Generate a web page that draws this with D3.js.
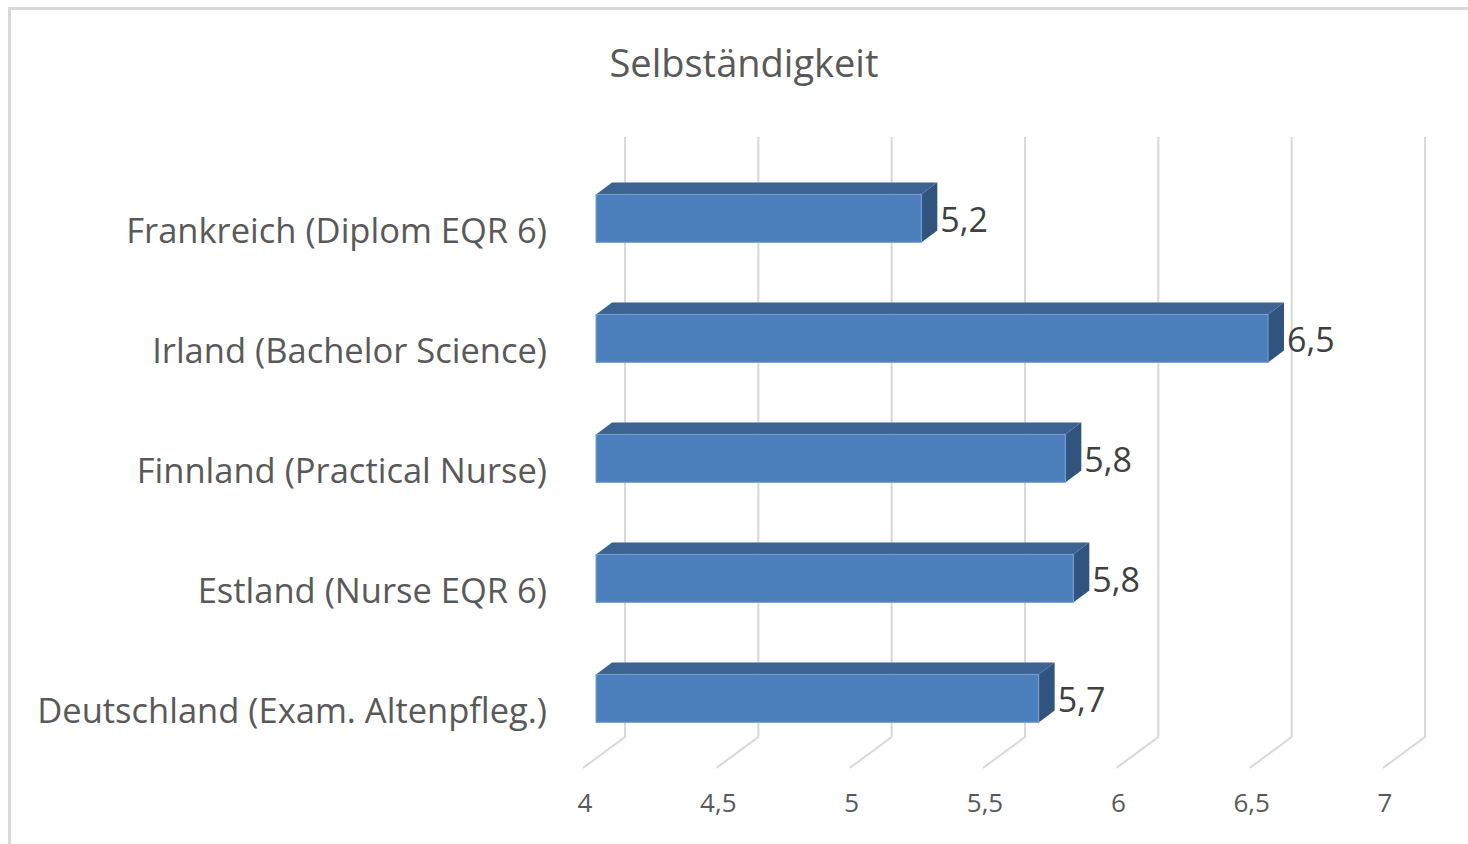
<!DOCTYPE html>
<html lang="de">
<head>
<meta charset="utf-8">
<title>Selbständigkeit</title>
<script src="https://cdn.jsdelivr.net/npm/d3@7"></script>
<style>
  body { margin: 0; background: #fff; }
  svg { display: block; font-family: "Open Sans", "Noto Sans", sans-serif; }
</style>
</head>
<body>
<svg id="chart" width="1468" height="844"></svg>
<script>
// data
const categories = [
  "Frankreich (Diplom EQR 6)",
  "Irland (Bachelor Science)",
  "Finnland (Practical Nurse)",
  "Estland (Nurse EQR 6)",
  "Deutschland (Exam. Altenpfleg.)"
]
const values = [5.22, 6.52, 5.76, 5.79, 5.66]
const ticks = [4, 4.5, 5, 5.5, 6, 6.5, 7]
const title = "Selbständigkeit"

const svg = d3.select("#chart")

// frame
svg.append("rect")
  .attr("x", 9.5).attr("y", 8.5)
  .attr("width", 1480).attr("height", 860)
  .attr("fill", "none")
  .attr("stroke", "#d9d9d9")
  .attr("stroke-width", 3)

svg.append("text")
  .attr("x", 744).attr("y", 77)
  .attr("text-anchor", "middle")
  .attr("fill", "#595959")
  .style("font-size", "38px")
  .text(title)

// front plane scales, plus a depth vector for the fake 3d
const x = d3.scaleLinear().domain([4, 7]).range([583, 1383])
const y = d3.scaleBand().domain(categories).range([168, 768])
  .paddingInner(0.6).paddingOuter(0.3)
const depth = { dx: 42, dy: -31 }
const z0 = 0.31, z1 = 0.69 // bar sits between these depth fractions

// grid: back wall verticals + floor diagonals
const grid = svg.append("g").attr("stroke", "#d9d9d9").attr("stroke-width", 2).attr("fill", "none")
grid.selectAll("path")
  .data(ticks).enter()
  .append("path")
  .attr("d", d => {
    let bx = x(d) + depth.dx
    let by = y.range()[1] + depth.dy
    return `M${bx},${y.range()[0] + depth.dy}L${bx},${by}L${x(d)},${y.range()[1]}`
  })

svg.append("g").selectAll("text")
  .data(ticks).enter()
  .append("text")
  .attr("x", d => x(d) + 2)
  .attr("y", 812)
  .attr("text-anchor", "middle")
  .attr("fill", "#595959")
  .style("font-size", "26px")
  .text(d => String(d).replace(".", ","))

// bars
const rows = categories.map((c, i) => ({ cat: c, val: values[i] }))
const fx = z0 * depth.dx, fy = z0 * depth.dy
const ddx = (z1 - z0) * depth.dx, ddy = (z1 - z0) * depth.dy

const bars = svg.append("g").selectAll("g")
  .data(rows).enter()
  .append("g")

bars.append("path") // top
  .attr("fill", "#3c6391")
  .attr("d", d => {
    let x0 = x(4) + fx, x1 = x(d.val) + fx, yt = y(d.cat) + fy
    return `M${x0},${yt}L${x0 + ddx},${yt + ddy}L${x1 + ddx},${yt + ddy}L${x1},${yt}Z`
  })

bars.append("path") // right side
  .attr("fill", "#30537f")
  .attr("d", d => {
    let x1 = x(d.val) + fx, yt = y(d.cat) + fy, yb = yt + y.bandwidth()
    return `M${x1},${yt}L${x1 + ddx},${yt + ddy}L${x1 + ddx},${yb + ddy}L${x1},${yb}Z`
  })

bars.append("rect") // front
  .attr("x", x(4) + fx)
  .attr("y", d => y(d.cat) + fy)
  .attr("width", d => x(d.val) - x(4))
  .attr("height", y.bandwidth())
  .attr("fill", "#4c80bd")
  .attr("stroke", "#7aa0d0")
  .attr("stroke-width", 1)

bars.append("text")
  .attr("x", d => x(d.val) + fx + ddx + 3)
  .attr("y", d => y(d.cat) + fy + y.bandwidth() / 2 + 1)
  .attr("dy", "0.36em")
  .attr("fill", "#404040")
  .style("font-size", "34px")
  .text(d => d.val.toFixed(1).replace(".", ","))

// category labels
svg.append("g").selectAll("text")
  .data(categories).enter()
  .append("text")
  .attr("x", 547)
  .attr("y", d => y(d) + y.bandwidth() / 2 + 3)
  .attr("dy", "0.36em")
  .attr("text-anchor", "end")
  .attr("fill", "#595959")
  .style("font-size", "34.5px")
  .text(d => d)
</script>
</body>
</html>
